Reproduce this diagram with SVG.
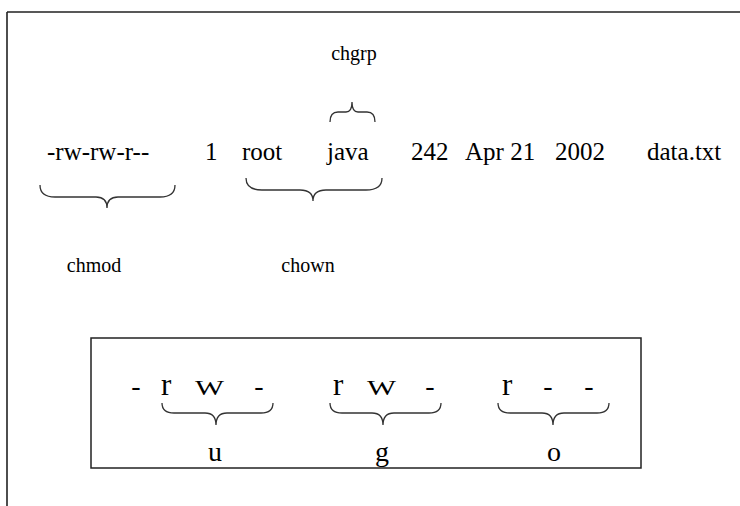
<svg xmlns="http://www.w3.org/2000/svg" width="740" height="506" viewBox="0 0 740 506" font-family="'Liberation Serif', 'Times New Roman', 'DejaVu Serif', serif">
<style>
text{font-family:'Liberation Serif','Times New Roman','DejaVu Serif',serif;fill:#000}
.m{font-size:25px}
.l{font-size:20px}
.b{font-size:28px}
.br{fill:none;stroke:#333;stroke-width:1.3}
.fr{fill:none;stroke:#222;stroke-width:1.6}
</style>
<rect width="740" height="506" fill="#fff"/>
<g id="frame">
<path class="fr" d="M7,12 H740 M7,12 V506"/>
</g>
<g id="listing">
<text class="m" x="47" y="160">-rw-rw-r--</text>
<text class="m" x="205" y="160">1</text>
<text class="m" x="242" y="160">root</text>
<text class="m" x="327" y="160">java</text>
<text class="m" x="411" y="160">242</text>
<text class="m" x="465" y="160">Apr 21</text>
<text class="m" x="555" y="160">2002</text>
<text class="m" x="647" y="160">data.txt</text>
</g>
<g id="chgrp">
<text class="l" x="354" y="60" text-anchor="middle">chgrp</text>
</g>
<g id="chmod">
<text class="l" x="94" y="272" text-anchor="middle">chmod</text>
</g>
<g id="chown">
<text class="l" x="308" y="272" text-anchor="middle">chown</text>
</g>
<g id="connectors">
<path class="br" d="M330,122 Q330,112 338,112 H346 Q352,112 352,102 Q352,112 358,112 H367 Q375,112 375,122"/>
<path class="br" d="M40,185 Q40,197 55,197 H96 Q107,197 107,208 Q107,197 118,197 H160 Q175,197 175,185"/>
<path class="br" d="M246,178 Q246,190 262,190 H300 Q313,190 313,201 Q313,190 326,190 H366 Q382,190 382,178"/>
<path class="br" d="M162,403 Q162,413 174,413 H205 Q216,413 216,425 Q216,413 227,413 H261 Q273,413 273,403"/>
<path class="br" d="M330,403 Q330,413 342,413 H372 Q383,413 383,425 Q383,413 394,413 H429 Q441,413 441,403"/>
<path class="br" d="M498,403 Q498,413 510,413 H542 Q553,413 553,425 Q553,413 564,413 H597 Q609,413 609,403"/>
</g>
<g id="permissions">
<rect x="91" y="338" width="550" height="130" fill="none" stroke="#222" stroke-width="1.5"/>
<text class="b" x="136" y="395" text-anchor="middle">-</text>
<text font-size="31" x="161" y="395">r</text>
<text font-size="20" x="195" y="395" textLength="29" lengthAdjust="spacingAndGlyphs">W</text>
<text class="b" x="259" y="395" text-anchor="middle">-</text>
<text font-size="31" x="333" y="395">r</text>
<text font-size="20" x="367" y="395" textLength="29" lengthAdjust="spacingAndGlyphs">W</text>
<text class="b" x="430" y="395" text-anchor="middle">-</text>
<text font-size="31" x="502" y="395">r</text>
<text class="b" x="548" y="395" text-anchor="middle">-</text>
<text class="b" x="589" y="395" text-anchor="middle">-</text>
<text class="b" x="215" y="461" text-anchor="middle">u</text>
<text class="b" x="382" y="461" text-anchor="middle">g</text>
<text class="b" x="554" y="461" text-anchor="middle">o</text>
</g>
</svg>
